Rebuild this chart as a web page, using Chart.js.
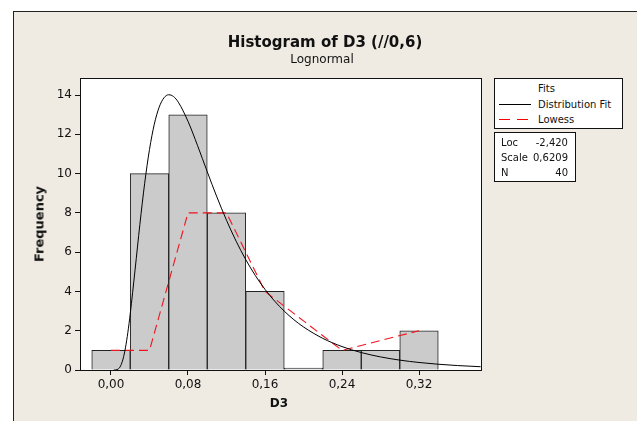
<!DOCTYPE html>
<html><head><meta charset="utf-8">
<script src="https://cdn.jsdelivr.net/npm/chart.js@4.4.1/dist/chart.umd.min.js"></script>
<style>
html,body{margin:0;padding:0;background:#fff;}
#wrap{position:relative;width:637px;height:421px;overflow:hidden;font-family:"DejaVu Sans",sans-serif;color:#111;}
#frame{position:absolute;left:13px;top:11px;width:700px;height:500px;background:#efebe2;border-left:1px solid #222;border-top:1px solid #222;}
canvas{position:absolute;left:0;top:0;}
.t{position:absolute;white-space:nowrap;}
.box{position:absolute;background:#fff;border:1px solid #111;box-sizing:border-box;}
</style></head>
<body>
<div id="wrap">
<div id="frame"></div>
<canvas id="c" width="637" height="421"></canvas>
<div class="t" style="left:325px;top:42px;transform:translate(-50%,-50%);font-weight:bold;font-size:15px;">Histogram of D3 (//0,6)</div>
<div class="t" style="left:322px;top:59px;transform:translate(-50%,-50%);font-size:12px;">Lognormal</div>
<div class="t" style="left:279px;top:403px;transform:translate(-50%,-50%);font-weight:bold;font-size:12px;">D3</div>
<div class="t" style="left:39px;top:224px;transform:translate(-50%,-50%) rotate(-90deg);font-weight:bold;font-size:13px;">Frequency</div>
<div class="box" style="left:494px;top:78px;width:129px;height:51px;"></div>
<div class="t" style="left:538px;top:88px;transform:translateY(-50%);font-size:10px;">Fits</div>
<div class="t" style="left:538px;top:104px;transform:translateY(-50%);font-size:10px;">Distribution Fit</div>
<div class="t" style="left:538px;top:119px;transform:translateY(-50%);font-size:10px;">Lowess</div>
<div style="position:absolute;left:499px;top:104px;width:32px;height:1px;background:#000;"></div>
<div style="position:absolute;left:499px;top:119px;width:11px;height:1px;background:#f00;"></div>
<div style="position:absolute;left:517px;top:119px;width:11px;height:1px;background:#f00;"></div>
<div class="box" style="left:494px;top:132px;width:82px;height:50px;"></div>
<div class="t" style="left:501px;top:142px;transform:translateY(-50%);font-size:10px;">Loc</div>
<div class="t" style="left:501px;top:157px;transform:translateY(-50%);font-size:10px;">Scale</div>
<div class="t" style="left:501px;top:172px;transform:translateY(-50%);font-size:10px;">N</div>
<div class="t" style="right:69px;top:142px;transform:translateY(-50%);font-size:10px;">-2,420</div>
<div class="t" style="right:69px;top:157px;transform:translateY(-50%);font-size:10px;">0,6209</div>
<div class="t" style="right:69px;top:172px;transform:translateY(-50%);font-size:10px;">40</div>
</div>
<script>
const binCenters = [0.00, 0.04, 0.08, 0.12, 0.16, 0.20, 0.24, 0.28, 0.32];
const counts = [1, 10, 13, 8, 4, 0, 1, 1, 2];
const fitX = [0.003, 0.005, 0.0075, 0.01, 0.0125, 0.015, 0.0175, 0.02, 0.025, 0.03, 0.035, 0.04, 0.045, 0.05, 0.055, 0.06, 0.065, 0.07, 0.08, 0.09, 0.10, 0.11, 0.12, 0.13, 0.14, 0.15, 0.16, 0.17, 0.18, 0.19, 0.20, 0.22, 0.24, 0.26, 0.28, 0.30, 0.32, 0.34, 0.36, 0.384];
const fitY = [0, 0.004, 0.049, 0.21, 0.558, 1.127, 1.907, 2.864, 5.096, 7.411, 9.511, 11.231, 12.517, 13.377, 13.858, 14.017, 13.924, 13.634, 12.665, 11.42, 10.098, 8.813, 7.625, 6.559, 5.621, 4.807, 4.107, 3.508, 2.996, 2.561, 2.192, 1.612, 1.193, 0.888, 0.667, 0.503, 0.383, 0.293, 0.226, 0.167];
const lowessX = [0.00, 0.04, 0.08, 0.12, 0.16, 0.20, 0.24, 0.28, 0.32];
const lowessY = [1, 1, 8, 8, 4, 2.5, 1, 1.5, 2];
const xTicks = [0, 0.08, 0.16, 0.24, 0.32];

const pts = (xs, ys) => xs.map((x, i) => ({x: x, y: ys[i]}));

const areaPlugin = {
  id: 'area',
  beforeDraw(chart) {
    const {ctx, chartArea: a} = chart;
    ctx.save();
    ctx.fillStyle = '#fff';
    ctx.fillRect(a.left, a.top, a.right - a.left, a.bottom - a.top);
    ctx.restore();
  },
  afterDraw(chart) {
    const {ctx, chartArea: a} = chart;
    ctx.save();
    ctx.strokeStyle = '#111';
    ctx.lineWidth = 1;
    ctx.strokeRect(Math.round(a.left) + 0.5, Math.round(a.top) + 0.5, Math.round(a.right - a.left), Math.round(a.bottom - a.top));
    ctx.restore();
  }
};

new Chart(document.getElementById('c'), {
  type: 'bar',
  data: {
    datasets: [
      {
        type: 'line', label: 'Distribution Fit', data: pts(fitX, fitY),
        borderColor: '#000', borderWidth: 1, pointRadius: 0, fill: false,
        cubicInterpolationMode: 'monotone', order: 1
      },
      {
        type: 'line', label: 'Lowess', data: pts(lowessX, lowessY),
        borderColor: '#f0141e', borderWidth: 1.1, borderDash: [9, 5], pointRadius: 0, fill: false,
        tension: 0, order: 2
      },
      {
        type: 'bar', label: 'D3', data: pts(binCenters, counts),
        backgroundColor: '#cbcbcb', borderColor: '#222', borderWidth: 1,
        barPercentage: 1, categoryPercentage: 1, minBarLength: 2, order: 3
      }
    ]
  },
  options: {
    responsive: false, animation: false, devicePixelRatio: 1,
    layout: {padding: {left: 0, top: 78, right: 156, bottom: 0}},
    plugins: {legend: {display: false}, tooltip: {enabled: false}, title: {display: false}},
    scales: {
      x: {
        type: 'linear', min: -0.0322, max: 0.3844, offset: false,
        afterFit(s) { s.height = 51; },
        afterBuildTicks(s) { s.ticks = xTicks.map(v => ({value: v})); },
        grid: {offset: false, drawOnChartArea: false, drawTicks: true, tickLength: 5, tickColor: '#111'},
        border: {display: true, color: '#111'},
        ticks: {padding: 3, color: '#111', font: {family: 'DejaVu Sans', size: 12}, maxRotation: 0,
          callback: v => v.toFixed(2).replace('.', ',')}
      },
      y: {
        type: 'linear', min: 0, max: 14.87,
        afterFit(s) { s.width = 80; },
        grid: {offset: false, drawOnChartArea: false, drawTicks: true, tickLength: 5, tickColor: '#111'},
        border: {display: true, color: '#111'},
        ticks: {stepSize: 2, includeBounds: false, padding: 3, color: '#111', font: {family: 'DejaVu Sans', size: 12}}
      }
    }
  },
  plugins: [areaPlugin]
});
</script>
</body></html>
